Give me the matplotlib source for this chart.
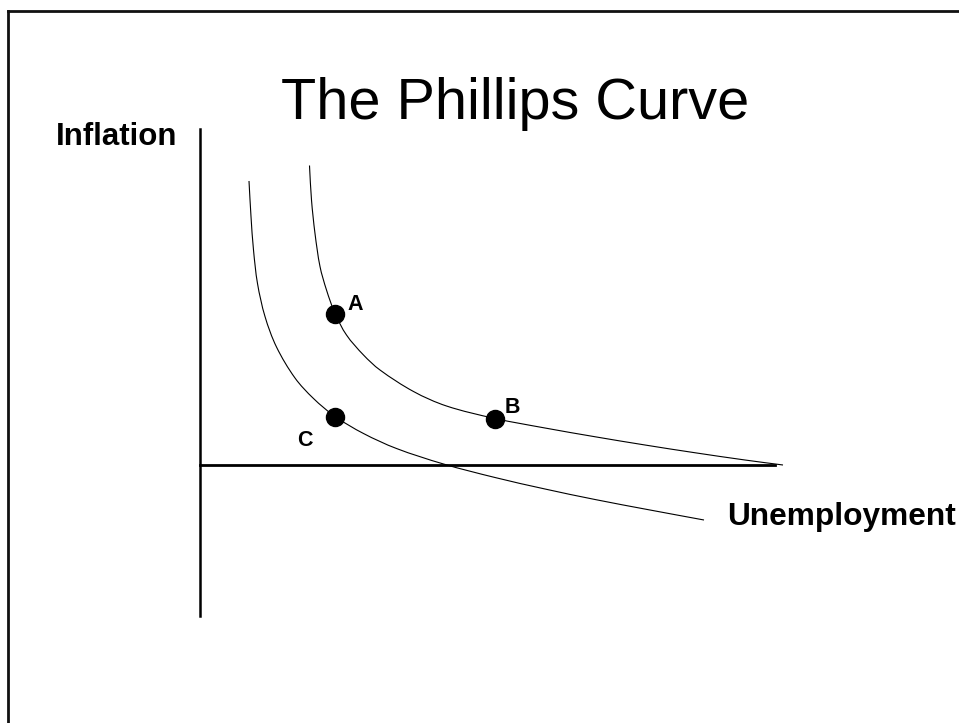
import matplotlib
matplotlib.use("Agg")
import numpy as np
import matplotlib.pyplot as plt
from matplotlib.lines import Line2D
from matplotlib.path import Path
from matplotlib.patches import PathPatch

plt.rcParams['font.family'] = ['Liberation Sans', 'DejaVu Sans']

# ---- data (x = unemployment, y = inflation) ----
curve_ab_x = [2.19, 2.23, 2.30, 2.40, 2.53, 2.70, 2.93, 3.27, 3.60, 4.27, 4.93, 5.90, 6.90, 7.90, 8.90, 9.90, 10.90, 11.66]
curve_ab_y = [5.99, 5.30, 4.63, 3.97, 3.50, 3.03, 2.60, 2.20, 1.90, 1.47, 1.18, 0.93, 0.74, 0.565, 0.40, 0.245, 0.10, 0.00]

curve_c_x = [0.98, 1.02, 1.07, 1.15, 1.30, 1.53, 1.90, 2.27, 2.70, 3.27, 3.93, 4.87, 5.90, 6.90, 7.90, 9.00, 10.08]
curve_c_y = [5.68, 4.97, 4.30, 3.63, 2.97, 2.36, 1.74, 1.33, 0.97, 0.63, 0.33, 0.02, -0.25, -0.48, -0.69, -0.90, -1.10]

point_labels = ['A', 'B', 'C']
point_x = [2.70, 5.90, 2.70]
point_y = [3.03, 0.93, 0.97]

title_text = 'The Phillips Curve'
y_label = 'Inflation'
x_label = 'Unemployment'


def smooth_path(xs, ys):
    """Chord-length Hermite (Catmull-Rom style) Bezier path through the given points."""
    p = np.column_stack([xs, ys]).astype(float)
    n = len(p)
    d = np.linalg.norm(np.diff(p, axis=0), axis=1)
    tang = np.zeros_like(p)
    for i in range(n):
        if i == 0:
            tang[i] = (p[1] - p[0]) / d[0]
        elif i == n - 1:
            tang[i] = (p[-1] - p[-2]) / d[-1]
        else:
            tang[i] = (p[i + 1] - p[i - 1]) / (d[i - 1] + d[i])
    verts = [p[0]]
    codes = [Path.MOVETO]
    for i in range(n - 1):
        c1 = p[i] + tang[i] * d[i] / 3.0
        c2 = p[i + 1] - tang[i + 1] * d[i] / 3.0
        verts += [c1, c2, p[i + 1]]
        codes += [Path.CURVE4] * 3
    return Path(verts, codes)


# ---- figure ----
fig = plt.figure(figsize=(9.59, 7.23), dpi=100)
ax = fig.add_axes([0, 0, 1, 1])
ax.set_xlim(-4.0, 15.18)
ax.set_ylim(-5.16, 9.30)
ax.set_xticks([])
ax.set_yticks([])
ax.patch.set_alpha(0)
for s in ('top', 'right'):
    ax.spines[s].set_visible(False)
ax.spines['left'].set_position(('data', 0))
ax.spines['bottom'].set_position(('data', 0))
ax.spines['left'].set_bounds(-3.02, 6.72)
ax.spines['bottom'].set_bounds(0, 11.5)
ax.spines['left'].set_linewidth(1.8)
ax.spines['bottom'].set_linewidth(2.0)

for cx, cy in ((curve_ab_x, curve_ab_y), (curve_c_x, curve_c_y)):
    ax.add_patch(PathPatch(smooth_path(cx, cy), facecolor='none', edgecolor='black', lw=0.8))

ax.plot(point_x, point_y, 'o', color='black', markersize=13, zorder=5)

label_offsets = {'A': (0.24, 0.07), 'B': (0.20, 0.11), 'C': (-0.76, -0.58)}
for lab, px, py in zip(point_labels, point_x, point_y):
    dx, dy = label_offsets[lab]
    ax.text(px + dx, py + dy, lab, fontsize=15.5, fontweight='bold',
            ha='left', va='baseline')

ax.text(-2.88, 6.40, y_label, fontsize=22.5, fontweight='bold', ha='left', va='baseline')
ax.text(10.54, -1.20, x_label, fontsize=22.8, fontweight='bold', ha='left', va='baseline')

fig.text(281 / 959, 1 - 119 / 723, title_text, fontsize=41.5, ha='left', va='baseline')

# slide frame (top and left edges)
fy = 1 - 10.7 / 723
fx = 8 / 959
fig.add_artist(Line2D([fx, 1.0], [fy, fy], transform=fig.transFigure, color='#111111', lw=2.0,
                      solid_capstyle='projecting'))
fig.add_artist(Line2D([fx, fx], [fy, 0.0], transform=fig.transFigure, color='#111111', lw=2.0,
                      solid_capstyle='projecting'))

fig.savefig('out.png', dpi=100, facecolor='white')
